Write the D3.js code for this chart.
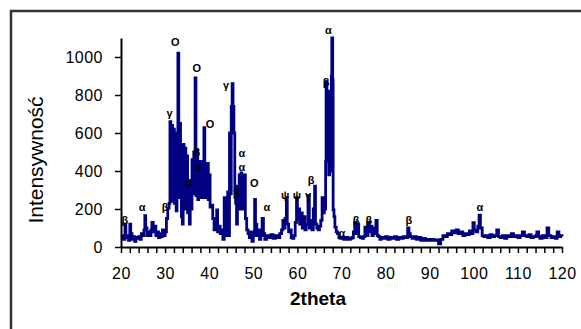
<!DOCTYPE html>
<html>
<head>
<meta charset="utf-8">
<script src="https://cdn.jsdelivr.net/npm/d3@7"></script>
<style>
  body { margin: 0; background: #fff; }
  svg { display: block; }
  .tick text { font-family: "Liberation Sans", Arial, sans-serif; }
</style>
</head>
<body>
<svg id="chart" width="581" height="329"></svg>
<script>
// diffractogram (2theta, intensity)
const theta = [
  20.0, 20.3, 20.6, 20.9, 21.1, 21.4, 21.7, 22.0, 22.2, 22.5, 22.8, 23.1, 23.4, 23.7, 24.0, 24.3, 24.6, 24.9,
  25.2, 25.4, 25.6, 25.9, 26.2, 26.5, 26.8, 27.0, 27.3, 27.6, 27.9, 28.2, 28.5, 28.8, 29.1, 29.4, 29.7, 30.0,
  30.3, 30.6, 30.9, 31.1, 31.3, 31.5, 31.7, 31.9, 32.1, 32.3, 32.5, 32.7, 32.9, 33.1, 33.3, 33.5, 33.7, 33.9,
  34.1, 34.3, 34.5, 34.7, 34.9, 35.1, 35.3, 35.5, 35.7, 35.9, 36.1, 36.3, 36.5, 36.7, 36.8, 37.0, 37.2, 37.4,
  37.6, 37.8, 38.0, 38.2, 38.4, 38.6, 38.8, 39.0, 39.2, 39.4, 39.6, 39.8, 40.0, 40.2, 40.5, 40.8, 41.1, 41.4,
  41.7, 41.9, 42.2, 42.5, 42.8, 43.1, 43.4, 43.6, 43.9, 44.2, 44.4, 44.6, 44.8, 45.0, 45.2, 45.4, 45.6, 45.8,
  46.0, 46.2, 46.4, 46.6, 46.8, 47.0, 47.2, 47.4, 47.6, 47.8, 48.0, 48.2, 48.5, 48.8, 49.1, 49.4, 49.7, 50.0,
  50.3, 50.5, 50.8, 51.1, 51.4, 51.7, 52.0, 52.3, 52.6, 53.0, 53.5, 54.0, 54.5, 55.0, 55.5, 56.0, 56.4, 56.7,
  57.0, 57.2, 57.5, 57.7, 58.0, 58.3, 58.6, 58.9, 59.2, 59.5, 59.8, 60.0, 60.2, 60.5, 60.8, 61.1, 61.4, 61.7,
  62.0, 62.4, 62.7, 63.0, 63.3, 63.6, 63.9, 64.1, 64.4, 64.7, 65.0, 65.3, 65.6, 65.8, 66.1, 66.4, 66.5, 66.7,
  66.9, 67.1, 67.3, 67.5, 67.7, 67.8, 68.0, 68.1, 68.3, 68.5, 68.8, 69.1, 69.4, 69.7, 70.0, 70.5, 71.0, 71.5,
  72.0, 72.4, 72.7, 73.0, 73.3, 73.6, 73.9, 74.3, 74.7, 75.0, 75.3, 75.6, 76.0, 76.3, 76.6, 76.9, 77.2, 77.5,
  77.8, 78.1, 78.4, 78.7, 79.0, 79.5, 80.0, 80.5, 81.0, 81.5, 82.0, 82.5, 83.0, 83.5, 84.0, 84.5, 85.0, 85.3,
  85.6, 86.0, 86.5, 87.0, 87.5, 88.0, 88.5, 89.0, 89.5, 90.0, 90.5, 91.0, 91.5, 92.0, 92.5, 93.0, 93.5, 94.0,
  94.5, 95.0, 95.5, 96.0, 96.5, 97.0, 97.5, 98.0, 98.5, 99.0, 99.5, 99.8, 100.1, 100.5, 100.9, 101.2, 101.5, 101.9,
  102.3, 102.7, 103.2, 103.7, 104.2, 104.7, 105.2, 105.6, 106.0, 106.5, 107.0, 107.5, 108.0, 108.5, 109.0, 109.5, 110.0, 110.5,
  111.0, 111.5, 112.0, 112.5, 113.0, 113.5, 114.0, 114.3, 114.7, 115.0, 115.5, 116.0, 116.6, 117.0, 117.5, 118.0, 118.5, 118.9,
  119.3, 119.7, 120.0
];
const intensity = [
  45, 60, 40, 120, 60, 50, 35, 120, 70, 40, 55, 30, 50, 45, 55, 40, 70, 60,
  90, 165, 100, 60, 80, 60, 90, 130, 80, 110, 60, 80, 50, 70, 55, 90, 60, 80,
  150, 205, 230, 660, 240, 640, 260, 620, 230, 600, 190, 300, 1020, 260, 650, 400, 160, 120,
  540, 250, 520, 200, 480, 180, 340, 120, 350, 200, 460, 280, 500, 300, 890, 270, 510, 250,
  440, 300, 450, 260, 400, 280, 628, 260, 430, 270, 440, 250, 380, 210, 220, 150, 90, 120,
  195, 80, 110, 70, 90, 40, 260, 60, 80, 290, 60, 600, 280, 740, 860, 740, 600, 300,
  230, 120, 320, 210, 380, 200, 390, 220, 370, 200, 380, 150, 90, 70, 50, 80, 30, 60,
  250, 120, 60, 90, 40, 60, 150, 70, 40, 60, 50, 65, 45, 60, 50, 70, 90, 140,
  100, 150, 260, 120, 80, 90, 50, 45, 60, 130, 260, 150, 200, 120, 180, 100, 160, 90,
  120, 270, 100, 140, 90, 200, 320, 120, 100, 90, 110, 140, 260, 180, 200, 450, 870, 790,
  820, 380, 780, 400, 900, 1100, 880, 195, 160, 105, 80, 70, 50, 45, 50, 40, 50, 40,
  45, 50, 80, 130, 70, 120, 55, 50, 45, 55, 105, 60, 130, 80, 110, 60, 100, 70,
  140, 60, 55, 40, 50, 45, 55, 40, 50, 45, 55, 40, 50, 45, 55, 50, 100, 70,
  55, 45, 55, 40, 50, 35, 45, 35, 40, 35, 40, 35, 38, 16, 40, 60, 55, 70,
  65, 85, 75, 90, 70, 80, 60, 70, 65, 85, 70, 128, 90, 80, 110, 168, 100, 60,
  55, 60, 50, 65, 55, 60, 90, 55, 50, 60, 45, 60, 55, 70, 55, 60, 50, 60,
  80, 60, 55, 65, 50, 55, 60, 79, 55, 45, 60, 50, 100, 60, 50, 55, 45, 79,
  55, 60, 55
];

// phase markers above the peaks
const markText  = ["β", "α", "β", "γ", "O", "α", "β", "α", "O", "O", "γ", "β", "α", "α", "O", "α", "ψ", "ψ", "γ", "β", "β", "α", "α", "β", "β", "β", "α"];
const markTheta = [20.9, 24.8, 30.0, 31.0, 32.3, 35.4, 37.2, 37.4, 37.2, 40.2, 43.8, 46.1, 47.4, 47.4, 50.2, 53.1, 57.2, 59.9, 62.4, 63.1, 66.5, 67.0, 70.1, 73.3, 76.2, 85.3, 101.4];
const markValue = [142, 210, 210, 705, 1080, 342, 500, 420, 940, 647, 853, 284, 495, 420, 337, 210, 274, 274, 274, 353, 868, 1140, 74, 142, 142, 142, 210];

const yTicks = [0, 200, 400, 600, 800, 1000];

const svg = d3.select("#chart");
const font = '"Liberation Sans", Arial, sans-serif';

// outer frame, runs off the right and bottom edges
svg.append("rect")
  .attr("x", 11).attr("y", 11)
  .attr("width", 600).attr("height", 340)
  .attr("fill", "#fff")
  .attr("stroke", "#333").attr("stroke-width", 2.5);

const x = d3.scaleLinear().domain([20, 120]).range([121, 562]);
const y = d3.scaleLinear().domain([0, 1100]).range([247, 38]);

const line = d3.line()
  .x((d, i) => x(theta[i]))
  .y(d => y(d))
  .curve(d3.curveStepAfter);

svg.append("path")
  .datum(intensity)
  .attr("d", line)
  .attr("fill", "none")
  .attr("stroke", "#000080")
  .attr("stroke-width", 2.8)
  .attr("stroke-linejoin", "miter");

svg.selectAll("text.mark")
  .data(markText)
  .enter().append("text")
  .attr("class", "mark")
  .attr("x", (d, i) => x(markTheta[i]))
  .attr("y", (d, i) => y(markValue[i]))
  .attr("dy", "0.35em")
  .attr("text-anchor", "middle")
  .style("font-family", font)
  .style("font-size", "11px")
  .style("font-weight", "bold")
  .text(d => d);

const yAxis = svg.append("g")
  .attr("transform", "translate(121,0)")
  .call(d3.axisLeft(y).tickValues(yTicks).tickFormat(d3.format("d"))
    .tickSize(6).tickSizeOuter(0).tickPadding(12));

const xAxis = svg.append("g")
  .attr("transform", "translate(0,247)")
  .call(d3.axisBottom(x)
    .tickValues(d3.range(20, 121, 2))
    .tickSize(6).tickSizeOuter(0).tickPadding(15)
    .tickFormat(d => d % 10 === 0 ? d : ""));

[yAxis, xAxis].forEach(g => {
  g.select(".domain").attr("stroke", "#000").attr("stroke-width", 2);
  g.selectAll(".tick line").attr("stroke", "#000").attr("stroke-width", 1.5);
  g.selectAll(".tick text")
    .attr("fill", "#000")
    .style("font-size", "16px")
    .style("letter-spacing", "0.5px");
});

svg.append("text")
  .attr("transform", "translate(43,160) rotate(-90)")
  .attr("text-anchor", "middle")
  .style("font-family", font)
  .style("font-size", "21px")
  .text("Intensywność");

svg.append("text")
  .attr("x", 318).attr("y", 305)
  .attr("text-anchor", "middle")
  .style("font-family", font)
  .style("font-size", "19px")
  .style("font-weight", "bold")
  .text("2theta");
</script>
</body>
</html>
